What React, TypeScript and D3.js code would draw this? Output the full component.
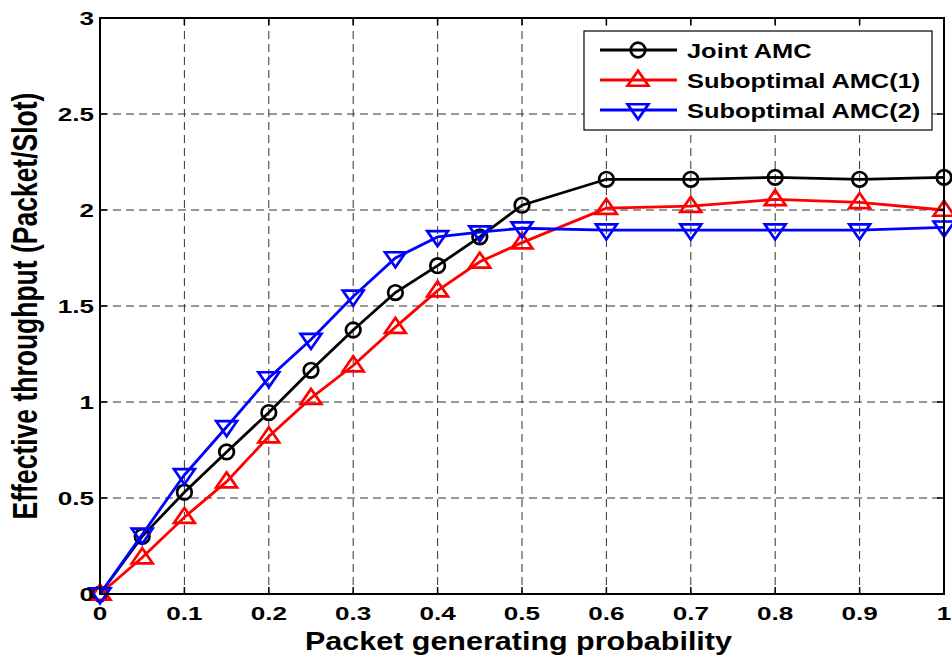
import React from "react";
import * as d3 from "d3";

const xValues = [0, 0.05, 0.1, 0.15, 0.2, 0.25, 0.3, 0.35, 0.4, 0.45, 0.5, 0.6, 0.7, 0.8, 0.9, 1];
const jointAMC = [0, 0.3, 0.53, 0.74, 0.945, 1.165, 1.375, 1.57, 1.71, 1.86, 2.025, 2.16, 2.16, 2.17, 2.16, 2.17];
const subAMC1 = [0, 0.19, 0.4, 0.585, 0.82, 1.02, 1.19, 1.39, 1.58, 1.73, 1.83, 2.01, 2.02, 2.055, 2.04, 2.0];
const subAMC2 = [0, 0.31, 0.62, 0.87, 1.125, 1.325, 1.55, 1.75, 1.86, 1.885, 1.905, 1.895, 1.895, 1.895, 1.895, 1.91];
const xTicks = [0, 0.1, 0.2, 0.3, 0.4, 0.5, 0.6, 0.7, 0.8, 0.9, 1];
const yTicks = [0, 0.5, 1, 1.5, 2, 2.5, 3];
const seriesNames = ["Joint AMC", "Suboptimal AMC(1)", "Suboptimal AMC(2)"];
const seriesColors = ["#000000", "#ff0000", "#0000ff"];
const seriesMarkers = ["circle", "up", "down"];
const xLabel = "Packet generating probability";
const yLabel = "Effective throughput (Packet/Slot)";

const W = 952, H = 666;
const L = 100, R = 944, T = 18, B = 594;
const FONT = "'Liberation Sans', Arial, Helvetica, sans-serif";

function Marker({ type, x, y, color }: { type: string; x: number; y: number; color: string }) {
  if (type === "circle") return <circle cx={x} cy={y} r={7.3} fill="none" stroke={color} strokeWidth={2.7} />;
  const s = 9.3;
  if (type === "up") {
    const p = `${x},${y - s} ${x - s * 1.12},${y + s * 0.62} ${x + s * 1.12},${y + s * 0.62}`;
    return <polygon points={p} fill="none" stroke={color} strokeWidth={2.7} strokeLinejoin="miter" />;
  }
  const p = `${x},${y + s} ${x - s * 1.12},${y - s * 0.62} ${x + s * 1.12},${y - s * 0.62}`;
  return <polygon points={p} fill="none" stroke={color} strokeWidth={2.7} strokeLinejoin="miter" />;
}

export default function App() {
  const x = d3.scaleLinear().domain([0, 1]).range([L, R]);
  const y = d3.scaleLinear().domain([0, 3]).range([B, T]);
  const series = [jointAMC, subAMC1, subAMC2];
  const line = d3
    .line<number>()
    .x((_, i) => x(xValues[i]))
    .y((d) => y(d));

  return (
    <svg width={W} height={H} style={{ position: "absolute", left: 0, top: 0, background: "#fff" }} fontFamily={FONT}>
      <rect x={0} y={0} width={W} height={H} fill="#fff" />
      {/* grid */}
      {xTicks.slice(1, -1).map((t) => (
        <line key={"gx" + t} x1={x(t)} x2={x(t)} y1={T} y2={B} stroke="#333" strokeWidth={1} strokeDasharray="8,5" />
      ))}
      {yTicks.slice(1, -1).map((t) => (
        <line key={"gy" + t} x1={L} x2={R} y1={y(t)} y2={y(t)} stroke="#333" strokeWidth={1} strokeDasharray="8,5" />
      ))}
      {/* series */}
      {series.map((s, si) => (
        <g key={si}>
          <path d={line(s) || ""} fill="none" stroke={seriesColors[si]} strokeWidth={2.8} />
          {s.map((v, i) => (
            <Marker key={i} type={seriesMarkers[si]} x={x(xValues[i])} y={y(v)} color={seriesColors[si]} />
          ))}
        </g>
      ))}
      {/* frame */}
      <rect x={L} y={T} width={R - L} height={B - T} fill="none" stroke="#000" strokeWidth={2} />
      {/* ticks */}
      {xTicks.map((t) => (
        <g key={"xt" + t}>
          <line x1={x(t)} x2={x(t)} y1={B} y2={B - 7} stroke="#000" strokeWidth={1.5} />
          <line x1={x(t)} x2={x(t)} y1={T} y2={T + 7} stroke="#000" strokeWidth={1.5} />
          <text transform={`translate(${x(t)},620) scale(1.45,1)`} textAnchor="middle" fontSize={18} fontWeight="bold">
            {t}
          </text>
        </g>
      ))}
      {yTicks.map((t) => (
        <g key={"yt" + t}>
          <line x1={L} x2={L + 7} y1={y(t)} y2={y(t)} stroke="#000" strokeWidth={1.5} />
          <line x1={R} x2={R - 7} y1={y(t)} y2={y(t)} stroke="#000" strokeWidth={1.5} />
          <text transform={`translate(94,${y(t) + 6.5}) scale(1.45,1)`} textAnchor="end" fontSize={18} fontWeight="bold">
            {t}
          </text>
        </g>
      ))}
      {/* axis labels */}
      <text transform={`translate(305,650) scale(1.22,1)`} textAnchor="start" fontSize={25} fontWeight="bold">
        {xLabel}
      </text>
      <text transform={`translate(37,${(T + B) / 2}) scale(1.3,1) rotate(-90)`} textAnchor="middle" fontSize={26.5} fontWeight="bold">
        {yLabel}
      </text>
      {/* legend */}
      <rect x={584} y={31} width={348} height={99} fill="#fff" stroke="#000" strokeWidth={1.2} />
      {seriesNames.map((n, i) => {
        const ly = 50 + i * 30;
        return (
          <g key={n}>
            <line x1={600} x2={677} y1={ly} y2={ly} stroke={seriesColors[i]} strokeWidth={2.8} />
            <Marker type={seriesMarkers[i]} x={638} y={ly} color={seriesColors[i]} />
            <text transform={`translate(687,${ly + 7.5}) scale(1.21,1)`} fontSize={21} fontWeight="bold">
              {n}
            </text>
          </g>
        );
      })}
    </svg>
  );
}
